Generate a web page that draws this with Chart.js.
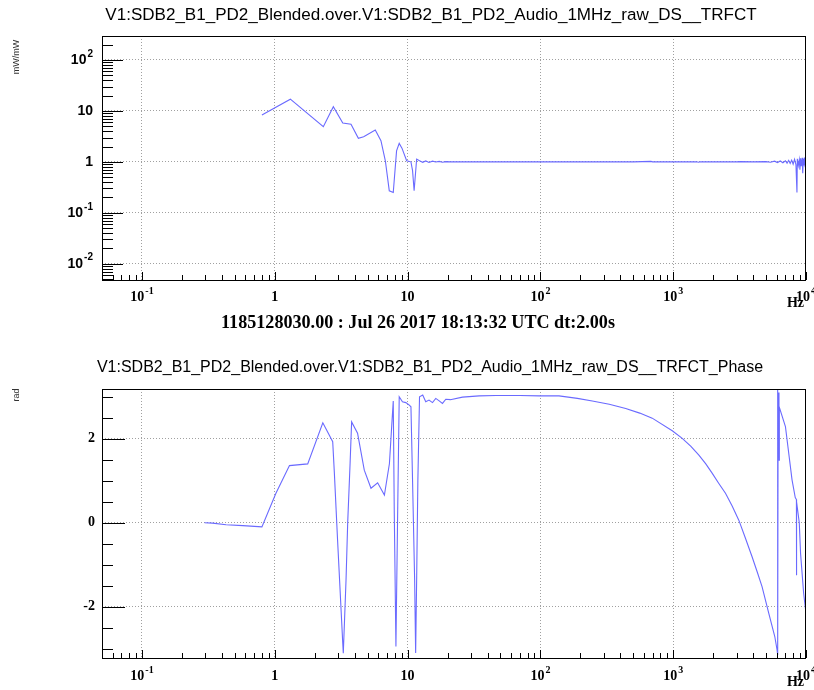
<!DOCTYPE html>
<html>
<head>
<meta charset="utf-8">
<script src="https://cdn.jsdelivr.net/npm/chart.js@4.4.1/dist/chart.umd.min.js"></script>
<style>
  body { margin: 0; background: #fff; }
  canvas { position: absolute; left: 0; }
  #mag { top: 0; }
  #phase { top: 340px; }
</style>
</head>
<body>
<canvas id="mag" width="814" height="340"></canvas>
<canvas id="phase" width="814" height="350"></canvas>
<script>
const magTitle = 'V1:SDB2_B1_PD2_Blended.over.V1:SDB2_B1_PD2_Audio_1MHz_raw_DS__TRFCT';
const phaseTitle = 'V1:SDB2_B1_PD2_Blended.over.V1:SDB2_B1_PD2_Audio_1MHz_raw_DS__TRFCT_Phase';
const timeLabel = '1185128030.00 : Jul 26 2017 18:13:32 UTC dt:2.00s';
const magUnit = 'mW/mW';
const phaseUnit = 'rad';
const freqUnit = 'Hz';

// tick values and labels ([base, exponent])
const freqTicks = [0.1, 1, 10, 100, 1000, 10000];
const freqTickLabels = [['10', '-1'], ['1', ''], ['10', ''], ['10', '2'], ['10', '3'], ['10', '4']];
const magTicks = [0.01, 0.1, 1, 10, 100];
const magTickLabels = [['10', '-2'], ['10', '-1'], ['1', ''], ['10', ''], ['10', '2']];
const phaseTicks = [-2, 0, 2];
const phaseTickLabels = [['-2', ''], ['0', ''], ['2', '']];

// magnitude
const magFreq = [0.80, 1.31, 2.32, 2.76, 3.25, 3.75, 4.26, 4.67, 5.71, 6.3, 6.8, 7.28, 7.8, 8.26, 8.65, 9.07,
  9.84, 10.6, 10.9, 11.2, 11.7, 12.3, 13.0, 13.7, 14.5, 15.4, 16.3, 17.3, 18.3, 19.4, 21, 30, 50, 100, 200,
  500, 680, 700, 1500, 1550, 1600, 3000, 3200, 4000, 5000, 5400, 5800, 6100, 6400, 6700, 7000, 7200, 7400,
  7600, 7800, 8000, 8200, 8400, 8550, 8600, 8750, 8900, 9000, 9100, 9200, 9350, 9450, 9550, 9650, 9750,
  9850, 9950, 10000];
const magVal = [8.3, 17, 4.9, 12.1, 5.8, 5.5, 2.9, 3.1, 4.2, 2.6, 1.05, 0.27, 0.25, 1.64, 2.3, 1.86,
  1.05, 1.0, 0.67, 0.27, 1.13, 1.05, 0.98, 1.04, 0.97, 1.03, 0.99, 1.02, 0.98, 1.01, 1.0, 1.0, 1.0, 1.0, 1.0,
  1.0, 1.02, 1.0, 1.0, 0.98, 1.0, 1.0, 1.01, 1.0, 1.01, 0.98, 1.03, 0.97, 1.04, 0.96, 1.05, 0.94, 1.07,
  0.93, 1.08, 0.9, 1.12, 0.88, 0.25, 1.15, 0.85, 1.1, 0.7, 1.18, 0.82, 1.2, 0.6, 1.15, 0.85, 1.22,
  0.8, 1.25, 0.46];

// phase
const phaseFreq = [0.296, 0.34, 0.43, 0.575, 0.80, 1.02, 1.29, 1.77, 2.30, 2.73, 2.81, 2.97, 3.24, 3.28,
  3.44, 3.54, 3.69, 3.79, 4.2, 4.72, 5.3, 5.95, 6.69, 7.3, 7.64, 7.8, 7.94, 8.17, 8.4, 8.65, 9.15, 9.7,
  10.3, 10.6, 10.9, 11.3, 11.5, 11.7, 11.95, 12.3, 13.0, 13.7, 14.5, 15.4, 16.3, 17.3, 18.3, 19.4, 21,
  25.9, 34.6, 46.2, 70, 98, 138, 190, 246, 330, 439, 560, 695, 984, 1170, 1360, 1561, 1760, 1964, 2200,
  2476, 2780, 3119, 3500, 3926, 4300, 4667, 5246, 5820, 6055, 6100, 6110, 6150, 6170, 6260, 6280, 6300,
  7000, 7850, 8300, 8470, 8480, 8500, 8900, 9100, 9600, 10000];
const phaseVal = [0, -0.01, -0.05, -0.07, -0.1, 0.7, 1.36, 1.40, 2.38, 1.93, 1.18, -0.41, -2.79, -3.11,
  -1.36, 0, 1.41, 2.4, 2.13, 1.25, 0.82, 0.95, 0.66, 1.41, 2.44, 2.9, 0.23, -2.95, 0, 3.0, 2.88, 2.86,
  2.8, 2.76, 1.0, -1.36, -3.1, -1.36, 1.0, 3.0, 3.04, 2.88, 2.92, 2.86, 2.96, 2.9, 2.84, 2.94, 2.93,
  2.99, 3.02, 3.03, 3.03, 3.02, 3.02, 2.96, 2.90, 2.82, 2.72, 2.61, 2.49, 2.19, 2.01, 1.82, 1.61, 1.40, 1.18, 0.94,
  0.70, 0.40, 0.06, -0.37, -0.81, -1.18, -1.52, -2.16, -2.71, -3.03, -3.15, 3.16, -3.1, 3.1, 2.8, 1.49, 2.75,
  2.29, 1.02, 0.6, 0.55, -1.25, 0.5, 0, -0.73, -1.68, -2.16];

const lineColor = '#6a6aff';
const gridColor = '#a0a0a0';

function drawLabel(ctx, x, y, lbl, align, baseFont, supFont) {
  const [base, sup] = lbl;
  ctx.font = baseFont;
  const wb = ctx.measureText(base).width;
  ctx.font = supFont;
  const ws = sup ? ctx.measureText(sup).width + 1 : 0;
  const w = wb + ws;
  const left = align === 'center' ? x - w / 2 : x - w;
  ctx.textAlign = 'left';
  ctx.textBaseline = 'middle';
  ctx.font = baseFont;
  ctx.fillText(base, left, y);
  if (sup) {
    ctx.font = supFont;
    ctx.fillText(sup, left + wb + 1, y - 6);
  }
}

function fitFont(ctx, text, width, weight, family) {
  ctx.font = `${weight} 20px ${family}`;
  const s = 20 * width / ctx.measureText(text).width;
  return `${weight} ${s.toFixed(2)}px ${family}`;
}

// ROOT-like frame: inner ticks, labels, titles
const rootFrame = {
  id: 'rootFrame',
  afterDraw(chart, args, o) {
    const { ctx, chartArea: a, scales: { x, y } } = chart;
    ctx.save();
    ctx.strokeStyle = '#000';
    ctx.fillStyle = '#000';
    ctx.lineWidth = 1;
    ctx.strokeRect(a.left + 0.5, a.top + 0.5, a.right - a.left - 1, a.bottom - a.top);

    ctx.beginPath();
    for (let e = -2; e <= 4; e++) {
      for (let k = 1; k <= 9; k++) {
        const v = k * Math.pow(10, e);
        if (v < x.min * 0.999 || v > x.max * 1.001) continue;
        const px = Math.round(x.getPixelForValue(v)) + 0.5;
        ctx.moveTo(px, a.bottom);
        ctx.lineTo(px, a.bottom - (k === 1 ? 8 : 5));
      }
    }
    if (o.logY) {
      for (let e = -3; e <= 2; e++) {
        for (let k = 1; k <= 9; k++) {
          const v = k * Math.pow(10, e);
          if (v < y.min * 0.999 || v > y.max * 1.001) continue;
          const py = Math.round(y.getPixelForValue(v)) + 0.5;
          ctx.moveTo(a.left, py);
          ctx.lineTo(a.left + (k === 1 ? 21 : 11), py);
        }
      }
    } else {
      for (let v = -3; v <= 3; v += 0.5) {
        const py = Math.round(y.getPixelForValue(v)) + 0.5;
        ctx.moveTo(a.left, py);
        ctx.lineTo(a.left + (v % 2 === 0 ? 23 : 11), py);
      }
    }
    ctx.stroke();

    const serifB = "bold 14px 'Liberation Serif'";
    const serifS = "bold 10px 'Liberation Serif'";
    freqTicks.forEach((v, i) => {
      drawLabel(ctx, x.getPixelForValue(v), a.bottom + o.xLabelOffset, freqTickLabels[i], 'center', serifB, serifS);
    });
    const yb = o.logY ? "bold 14px 'Liberation Sans'" : serifB;
    const ys = o.logY ? "bold 10px 'Liberation Sans'" : serifS;
    o.yTicks.forEach((v, i) => {
      drawLabel(ctx, a.left - o.yLabelGap, y.getPixelForValue(v), o.yTickLabels[i], 'right', yb, ys);
    });

    ctx.textAlign = 'center';
    ctx.textBaseline = 'middle';
    ctx.font = serifB;
    ctx.fillText(freqUnit, 795.5, a.bottom + o.hzOffset);

    ctx.font = fitFont(ctx, o.title, o.titleWidth, 'normal', "'Liberation Sans'");
    ctx.fillText(o.title, o.titleX, o.titleY);

    if (o.footer) {
      ctx.font = fitFont(ctx, o.footer, 394, 'bold', "'Liberation Serif'");
      ctx.fillText(o.footer, 418, o.footerY);
    }

    ctx.save();
    ctx.translate(17, o.unitY);
    ctx.rotate(-Math.PI / 2);
    ctx.font = "9px 'Liberation Sans'";
    ctx.fillStyle = '#333';
    ctx.fillText(o.unit, 0, 0);
    ctx.restore();
    ctx.restore();
  }
};

function makeChart(id, freq, vals, yScale, padding, frame) {
  return new Chart(document.getElementById(id), {
    type: 'scatter',
    data: {
      datasets: [{
        data: freq.map((f, i) => ({ x: f, y: vals[i] })),
        showLine: true,
        borderColor: lineColor,
        borderWidth: 1.1,
        pointRadius: 0,
        tension: 0
      }]
    },
    options: {
      responsive: false,
      animation: false,
      events: [],
      layout: { padding },
      plugins: { legend: { display: false }, tooltip: { enabled: false }, rootFrame: frame },
      scales: {
        x: {
          type: 'logarithmic', min: 0.05, max: 10000,
          afterBuildTicks: s => { s.ticks = freqTicks.slice(0, 5).map(v => ({ value: v })); },
          afterFit: s => { s.height = 0; },
          ticks: { display: false },
          grid: { color: gridColor, drawTicks: false, lineWidth: 1 },
          border: { display: false, dash: [1, 2] }
        },
        y: Object.assign({
          afterFit: s => { s.width = 0; },
          ticks: { display: false },
          grid: { color: gridColor, drawTicks: false, lineWidth: 1 },
          border: { display: false, dash: [1, 2] }
        }, yScale)
      }
    },
    plugins: [rootFrame]
  });
}

makeChart('mag', magFreq, magVal,
  { type: 'logarithmic', min: 0.00478, max: 296,
    afterBuildTicks: s => { s.ticks = magTicks.map(v => ({ value: v })); } },
  { left: 102, top: 36, right: 8, bottom: 60 },
  { logY: true, yTicks: magTicks, yTickLabels: magTickLabels, yLabelGap: 9, xLabelOffset: 17, hzOffset: 23,
    title: magTitle, titleWidth: 652, titleX: 431, titleY: 15, footer: timeLabel, footerY: 323,
    unit: magUnit, unitY: 57 });

makeChart('phase', phaseFreq, phaseVal,
  { type: 'linear', min: -3.222, max: 3.184,
    afterBuildTicks: s => { s.ticks = phaseTicks.map(v => ({ value: v })); } },
  { left: 102, top: 49, right: 8, bottom: 32 },
  { logY: false, yTicks: phaseTicks, yTickLabels: phaseTickLabels, yLabelGap: 7, xLabelOffset: 18, hzOffset: 24,
    title: phaseTitle, titleWidth: 666, titleX: 430, titleY: 27.5, footer: null,
    unit: phaseUnit, unitY: 55 });
</script>
</body>
</html>
